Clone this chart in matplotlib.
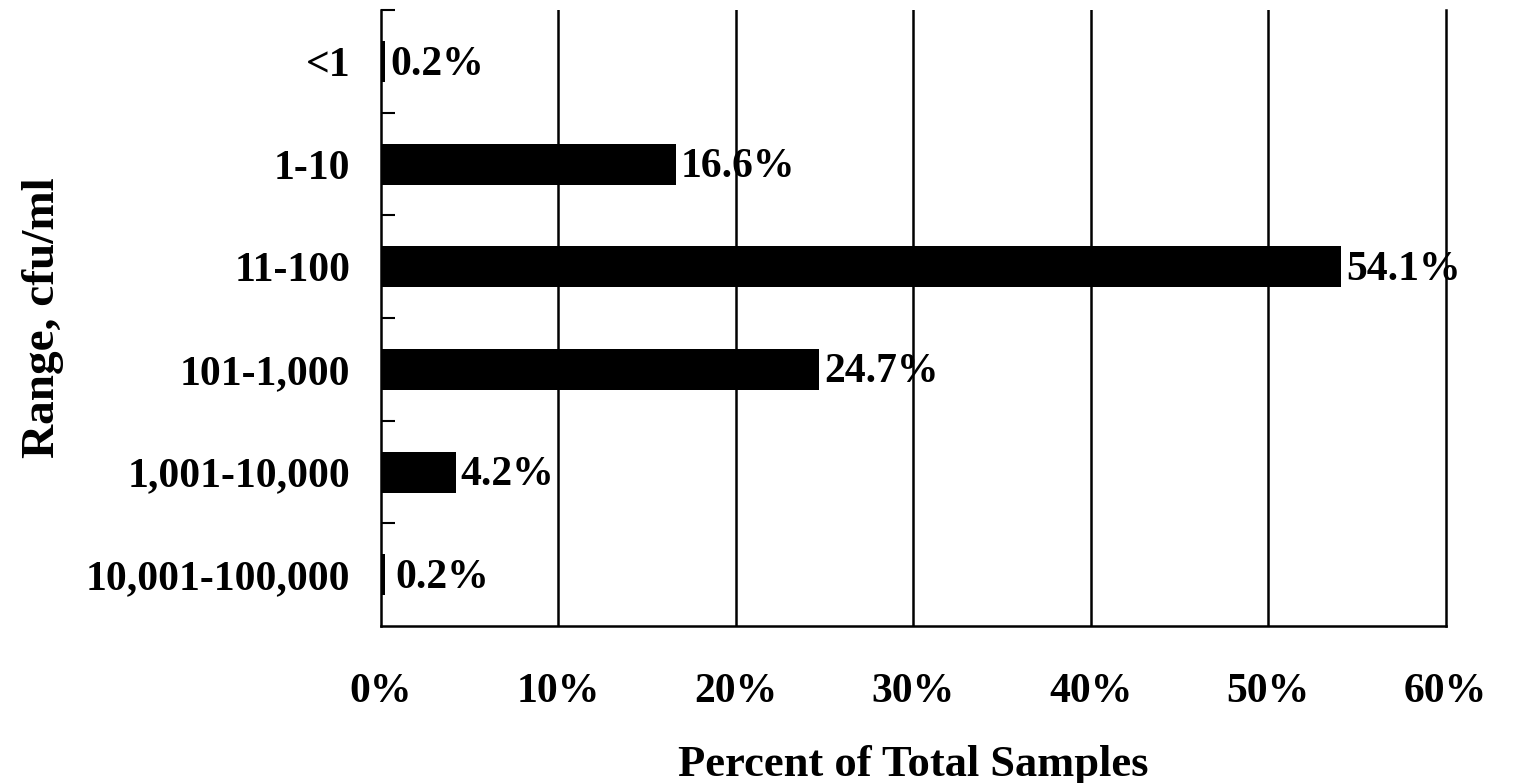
import matplotlib.pyplot as plt
import numpy as np

ranges = ['<1', '1-10', '11-100', '101-1,000', '1,001-10,000', '10,001-100,000']
percents = [0.2, 16.6, 54.1, 24.7, 4.2, 0.2]
xticks = [0, 10, 20, 30, 40, 50, 60]

plt.rcParams['font.family'] = ['Liberation Serif', 'DejaVu Serif']
plt.rcParams['font.weight'] = 'bold'

fig = plt.figure(figsize=(15.21, 7.83), dpi=100)
ax = fig.add_axes([0.2505, 0.2005, 0.7, 0.7865])

y = np.arange(len(ranges))
ax.barh(y, percents, height=0.4, color='black', zorder=3)
ax.set_ylim(len(ranges) - 0.5, -0.5)
ax.set_xlim(0, 60)

for yi, p in zip(y, percents):
    off = 0.6 if yi == len(ranges) - 1 else 0.3
    ax.text(p + off, yi + 0.03, f'{p}%', va='center', ha='left', fontsize=30, fontweight='bold', zorder=4)

ax.set_xticks(xticks)
ax.set_xticklabels([f'{t}%' for t in xticks], fontsize=30, fontweight='bold')
ax.tick_params(axis='x', length=0, pad=34)
for t in xticks[1:-1]:
    ax.axvline(t, color='black', lw=1.8, zorder=2)

ax.set_yticks(y)
ax.set_yticklabels(ranges, fontsize=30, fontweight='bold')
ax.tick_params(axis='y', which='major', length=0, pad=22)
ax.set_yticks(np.arange(-0.5, len(ranges) - 0.5, 1), minor=True)
ax.tick_params(axis='y', which='minor', direction='in', length=10, width=1.5)

ax.spines['top'].set_visible(False)
for s in ['left', 'right', 'bottom']:
    ax.spines[s].set_linewidth(1.8)

ax.set_xlabel('Percent of Total Samples', fontsize=32, fontweight='bold', labelpad=24)
ax.set_ylabel('Range, cfu/ml', fontsize=34, fontweight='bold', labelpad=16)

fig.savefig('out.png', dpi=100)
